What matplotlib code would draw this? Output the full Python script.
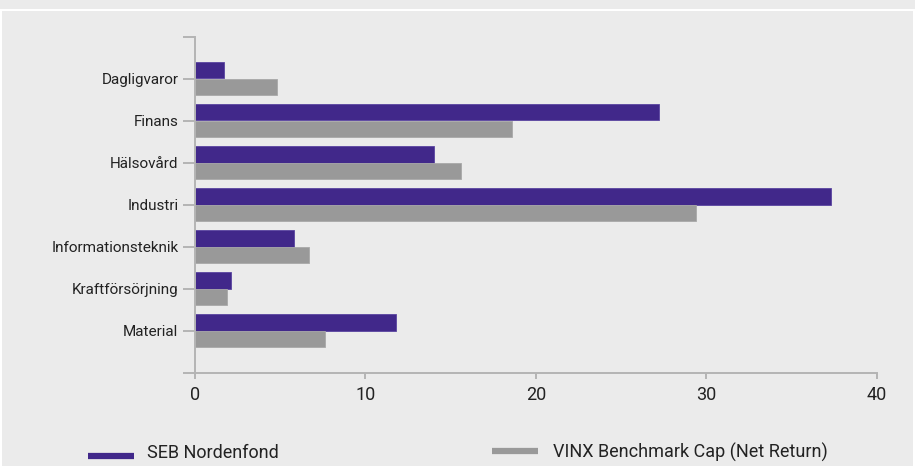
#!/usr/bin/env python3
"""Sector weights: SEB Nordenfond vs VINX Benchmark Cap (Net Return)."""

import matplotlib

matplotlib.use("Agg")

import matplotlib.pyplot as plt
import numpy as np
from matplotlib.lines import Line2D
from matplotlib.patches import Rectangle

sectors = [
    "Dagligvaror",
    "Finans",
    "Hälsovård",
    "Industri",
    "Informationsteknik",
    "Kraftförsörjning",
    "Material",
]
fund_weights = [1.7, 27.2, 14.0, 37.3, 5.8, 2.1, 11.8]
bench_weights = [4.8, 18.6, 15.6, 29.4, 6.7, 1.9, 7.6]
series_names = ["SEB Nordenfond", "VINX Benchmark Cap (Net Return)"]
x_ticks = [0, 10, 20, 30, 40]

PURPLE = "#41288a"
GREY = "#999999"
BG = "#ebebeb"
AXIS = "#b4b4b4"
TEXT = "#222222"

plt.rcParams["font.family"] = ["Roboto", "DejaVu Sans"]

fig = plt.figure(figsize=(9.15, 4.66), dpi=100, facecolor=BG)
ax = fig.add_axes([195 / 915, 1 - 372.5 / 466, (876.7 - 195) / 915, (372.5 - 36.5) / 466])
ax.set_facecolor(BG)

y = np.arange(len(sectors))
h = 0.4
ax.barh(y - h / 2, fund_weights, height=h, color=PURPLE, edgecolor="#5a44a0", linewidth=0.6)
ax.barh(y + h / 2, bench_weights, height=h, color=GREY, edgecolor="#a8a8a8", linewidth=0.6)

ax.set_xlim(0, 40)
ax.set_ylim(7, -1)
ax.set_xticks(x_ticks)
ax.set_xticklabels([str(t) for t in x_ticks], fontsize=13, color=TEXT)
ax.set_yticks(list(range(-1, len(sectors) + 1)))
ax.set_yticklabels([""] + sectors + [""], fontsize=11, color=TEXT)

for side in ("top", "right"):
    ax.spines[side].set_visible(False)
for side in ("left", "bottom"):
    ax.spines[side].set_color(AXIS)
    ax.spines[side].set_linewidth(1.4)
ax.tick_params(axis="y", length=9, width=1.4, color=AXIS, pad=3)
ax.tick_params(axis="x", length=4, width=1.4, color=AXIS, pad=6)

# frame strips of the surrounding panel
fig.add_artist(Rectangle((0, 1 - 11 / 466), 1, 2 / 466, transform=fig.transFigure,
                         color="white", lw=0))
fig.add_artist(Rectangle((0, 0), 2 / 915, 1 - 11 / 466, transform=fig.transFigure,
                         color="white", lw=0))
fig.add_artist(Rectangle((913 / 915, 0), 2 / 915, 1 - 11 / 466, transform=fig.transFigure,
                         color="white", lw=0))

# legend, laid out as in the source panel
fig.add_artist(Line2D([88 / 915, 134 / 915], [1 - 455.7 / 466] * 2, transform=fig.transFigure,
                      color=PURPLE, linewidth=4.5, solid_capstyle="butt"))
fig.text(147 / 915, 1 - 458 / 466, series_names[0], fontsize=13, color=TEXT, va="baseline")
fig.add_artist(Line2D([492 / 915, 538 / 915], [1 - 451 / 466] * 2, transform=fig.transFigure,
                      color=GREY, linewidth=4.5, solid_capstyle="butt"))
fig.text(553 / 915, 1 - 458 / 466, series_names[1], fontsize=13, color=TEXT, va="baseline")

fig.savefig("out.png", dpi=100, facecolor=BG)
